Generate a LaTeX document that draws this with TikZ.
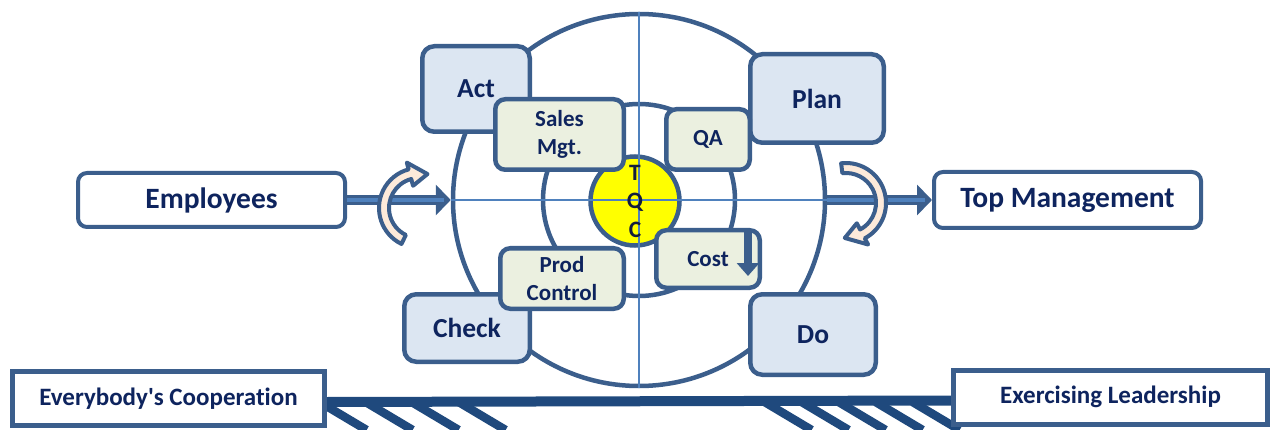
\documentclass[tikz,border=0pt]{standalone}
\usepackage{fontspec}
\setmainfont{Carlito}[Ligatures=NoCommon]
\usepackage{tikz}
\usetikzlibrary{arrows.meta}
\definecolor{pdline}{RGB}{59,94,140}
\definecolor{pdnavy}{RGB}{14,36,94}
\definecolor{pdink}{RGB}{18,28,62}
\definecolor{pdpale}{RGB}{220,230,242}
\definecolor{pdsage}{RGB}{235,240,224}
\definecolor{pdpeach}{RGB}{253,234,218}
\definecolor{pdcross}{RGB}{79,129,189}
\definecolor{pdbar}{RGB}{31,73,125}
\definecolor{pdyellow}{RGB}{255,255,0}

\begin{document}
\begin{tikzpicture}[x=1pt, y=1pt,
  bigbox/.style={draw=pdline, line width=4.5pt, fill=pdpale, rounded corners=12pt,
    text=pdnavy, font=\fontsize{27.5}{30}\selectfont\bfseries, inner sep=0pt},
  smallbox/.style={draw=pdline, line width=4.5pt, fill=pdsage, rounded corners=10pt,
    text=pdnavy, align=center, font=\fontsize{23}{27.5}\selectfont\bfseries, inner sep=0pt},
  sidebox/.style={draw=pdline, line width=4pt, fill=white, rounded corners=9pt,
    text=pdnavy, font=\fontsize{29.5}{32}\selectfont\bfseries, minimum width=267pt},
  basebox/.style={draw=pdline, line width=5pt, fill=white, text=pdnavy,
    font=\fontsize{25}{28}\selectfont\bfseries, minimum height=54pt, inner sep=0pt},
  ring/.style={circle, draw=pdline, line width=4.5pt, inner sep=0pt},
  shaft/.style={draw=pdline, line width=10pt, -{Triangle[length=15pt,width=30pt]}},
  shaftin/.style={draw=pdcross, line width=3.5pt, shorten >=7pt},
  turn/.style={draw=pdline, line width=4pt, fill=pdpeach, line join=round},
  cross/.style={draw=pdcross, line width=1.3pt}]
\useasboundingbox (0,0) rectangle (1273,-430);
% -- Rings and cross --
\node[ring, fill=white, minimum size=372pt] (outer) at (639,-200) {};
\node[ring, fill=white, minimum size=192pt] (middle) at (639,-200) {};
\node[ring, fill=pdyellow, minimum size=89pt] (core) at (635,-201) {};
\draw[cross] (outer.north) -- (outer.south);
\draw[cross] (outer.west) -- (outer.east);
\node[font=\fontsize{23.5}{28.5}\selectfont\bfseries, text=pdink, align=center]
  (tqc) at (635,-201) {T\\Q\\C};
% -- PDCA boxes --
\node[bigbox, minimum width=107.5pt, minimum height=85.5pt] (act) at (476,-89) {Act};
\node[bigbox, minimum width=133.5pt, minimum height=88.5pt] (plan) at (817,-98.5) {Plan};
\node[bigbox, minimum width=125.5pt, minimum height=67.5pt] (check) at (467,-328) {Check};
\node[bigbox, minimum width=125.5pt, minimum height=80.5pt] (do) at (813,-334.5) {Do};
% -- Inner function boxes --
\node[smallbox, minimum width=128.5pt, minimum height=70.5pt] (sales) at (559.5,-134.5) {Sales\\Mgt.};
\node[smallbox, minimum width=83.5pt, minimum height=60.5pt] (qa) at (708,-139.5) {QA};
\node[smallbox, minimum width=123.5pt, minimum height=60.5pt] (prod) at (562,-278.5) {Prod\\Control};
\node[smallbox, minimum width=103.5pt, minimum height=57.5pt] (cost) at (708,-259) {Cost};
\coordinate (costtop) at (748,-232);
\coordinate (costlow) at (748,-276);
\draw[draw=pdline, line width=8pt, -{Triangle[length=13pt,width=22pt]}] (costtop) -- (costlow);
% -- Side boxes and arrows --
\node[sidebox, minimum height=54pt] (emp) at (211.5,-200) {Employees};
\node[sidebox, minimum height=56pt] (top) at (1067.5,-200) {Top Management};
\draw[shaft] (emp.east) -- (outer.west);
\draw[shaftin] (emp.east) -- (outer.west);
\draw[shaft] (outer.east) -- (top.west);
\draw[shaftin] (outer.east) -- (top.west);
\begin{scope}[shift={(419,-208)}]
\draw[turn] (244:40) arc (244:105:40) -- (105:47) -- (76:35) -- (105:23) -- (105:30)
  arc (105:244:30) -- cycle;
\end{scope}
\begin{scope}[shift={(846,-203)}]
\draw[turn] (97:40) arc (97:-62:40) -- (-62:47) -- (-92:35) -- (-62:23) -- (-62:30)
  arc (-62:97:30) -- cycle;
\end{scope}
% -- Ground --
\node[basebox, minimum width=312pt] (coop) at (168.5,-398.5) {};
\node[basebox, minimum width=314pt] (lead) at (1110.5,-397) {};
\draw[pdbar, line width=10pt] ([yshift=-3.5pt]coop.east) -- ([yshift=-3.5pt]lead.west);
\draw[pdbar, line width=8.5pt]
  (319.6,-402) -- (366.6,-430) (365.6,-402) -- (412.6,-430)
  (411.6,-402) -- (458.6,-430) (458.6,-402) -- (505.6,-430)
  (764.6,-402) -- (811.6,-430) (801.6,-402) -- (848.6,-430)
  (838.6,-402) -- (885.6,-430) (875.6,-402) -- (922.6,-430)
  (912.6,-402) -- (959.6,-430);
\node[basebox, minimum width=312pt] at (coop) {Everybody\textquotesingle s Cooperation};
\node[basebox, minimum width=314pt] at (lead) {Exercising Leadership};
\end{tikzpicture}
\end{document}
